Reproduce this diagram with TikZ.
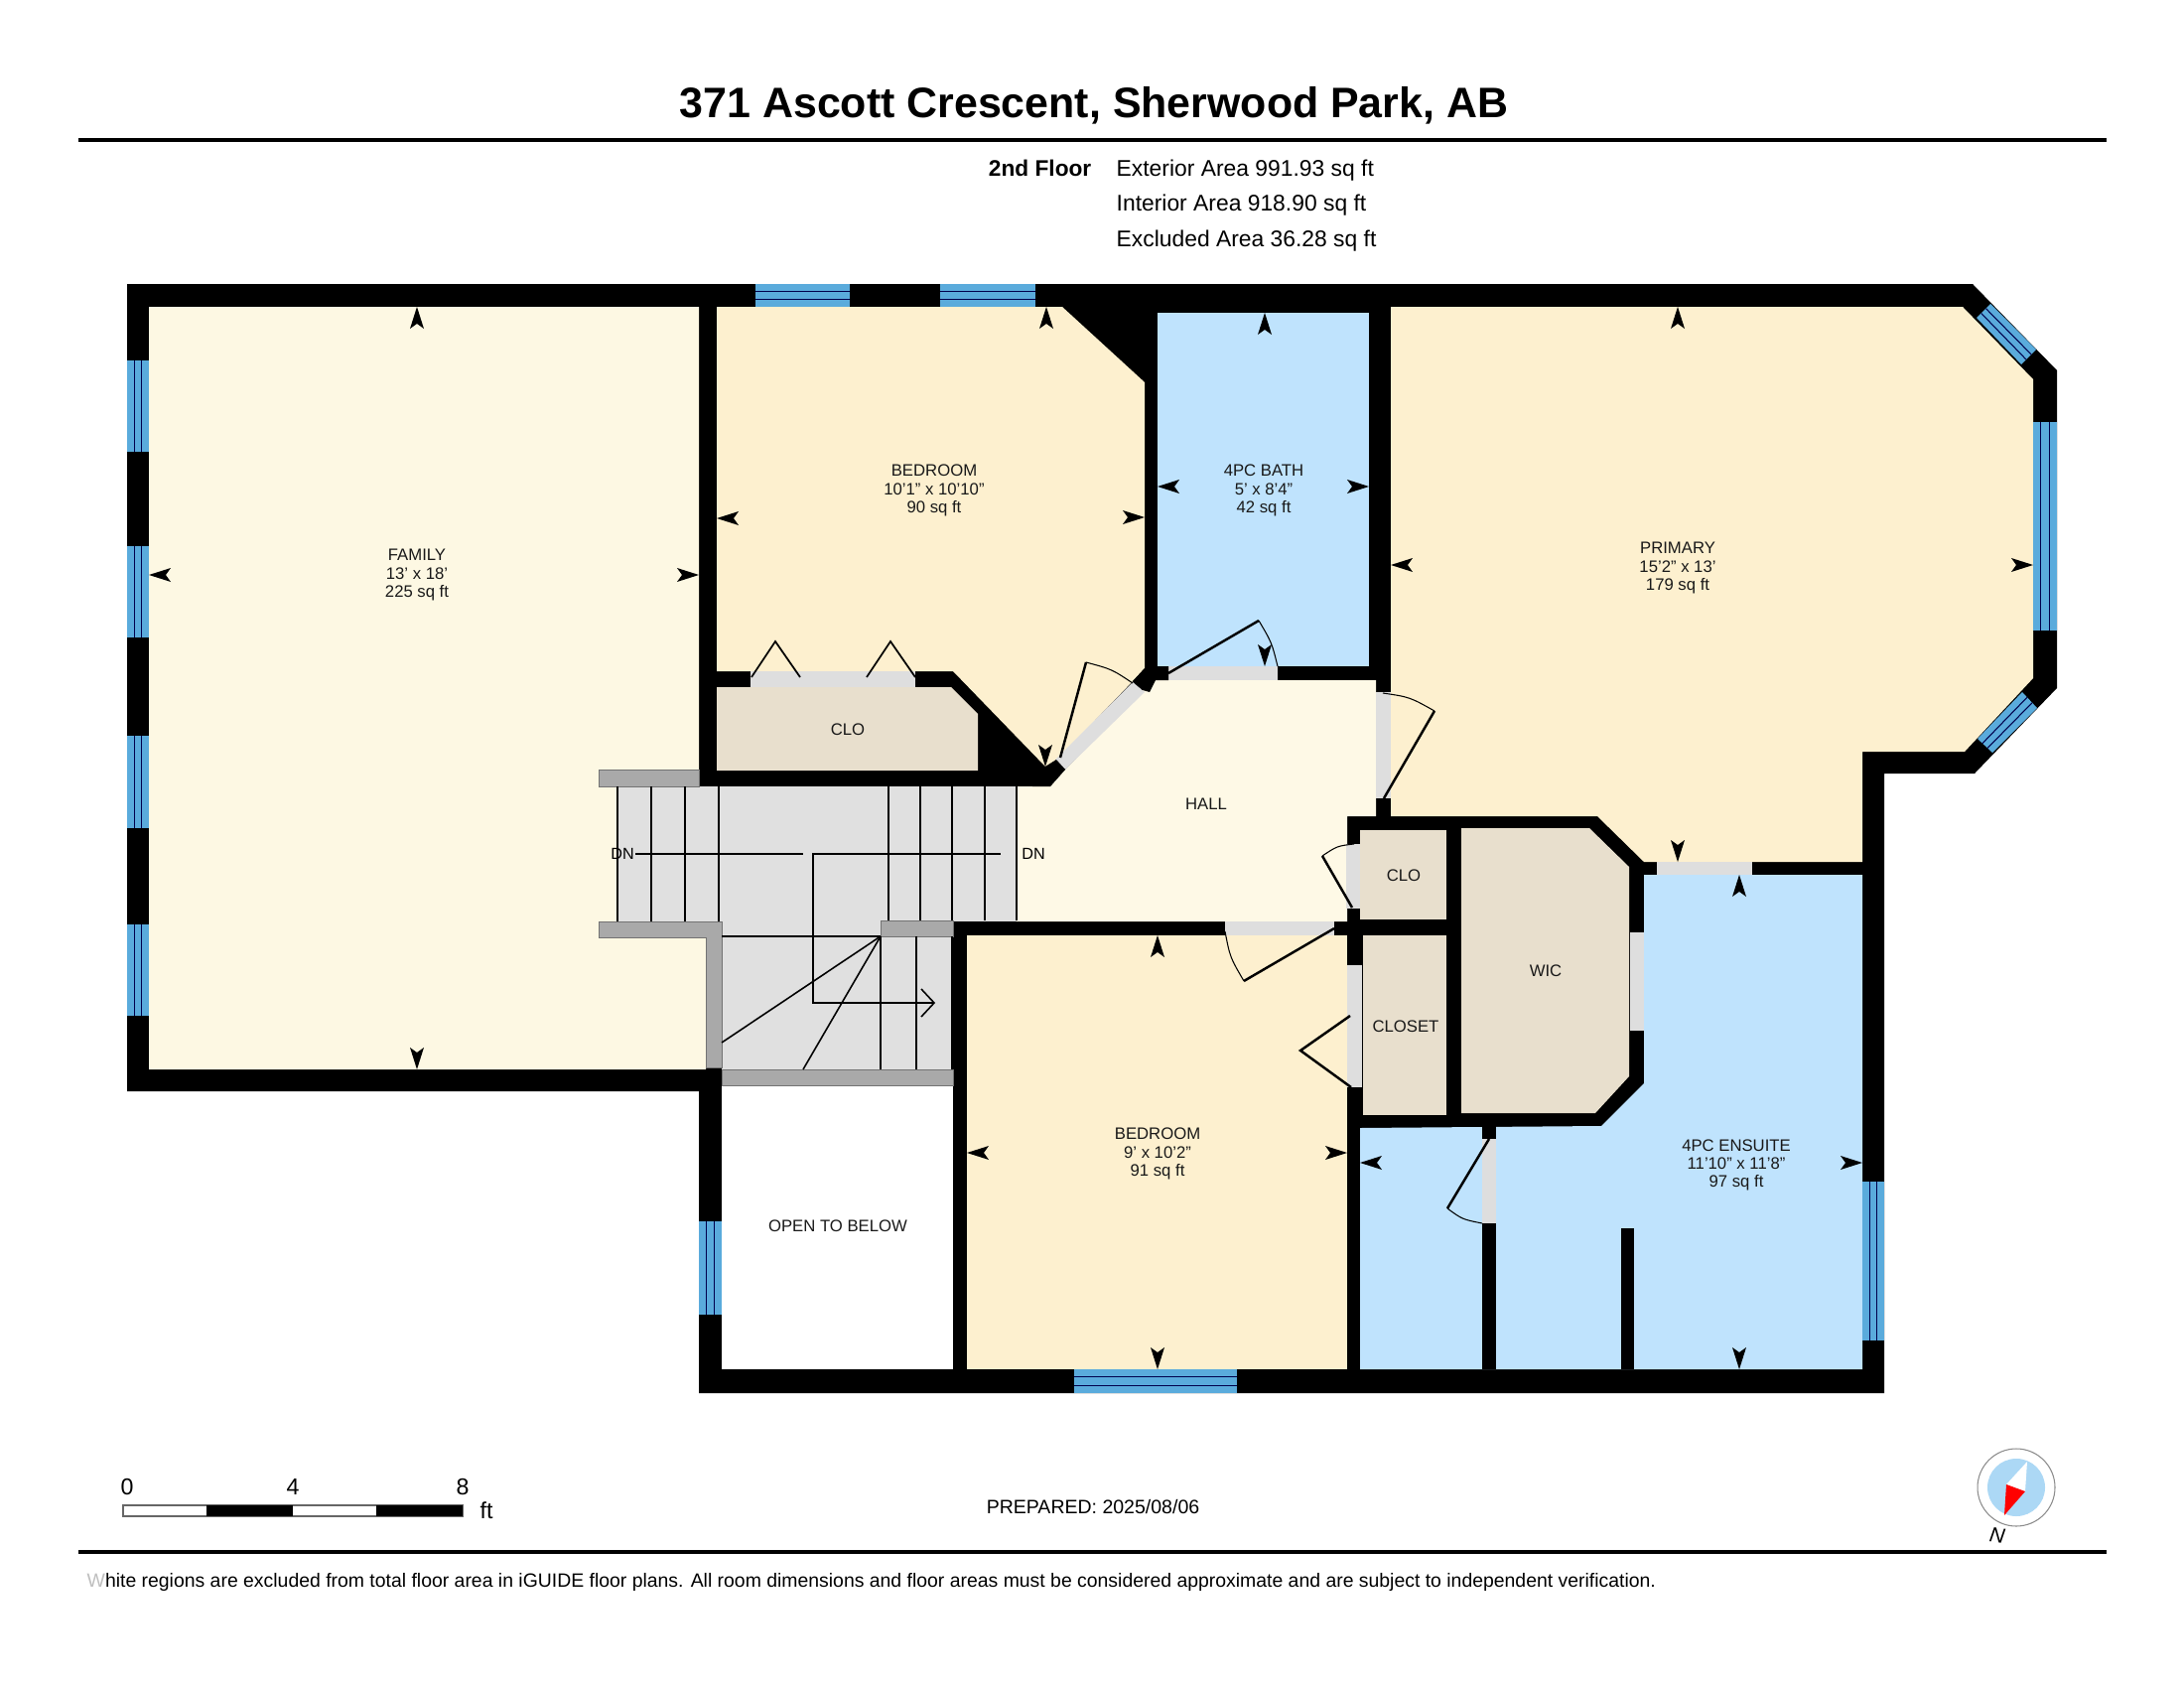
\documentclass[tikz,border=0pt]{standalone}
\usepackage{fontspec}
\setmainfont{Liberation Sans}
\usetikzlibrary{calc}
\definecolor{fam}{HTML}{FDF8E3}
\definecolor{bed}{HTML}{FDF0CF}
\definecolor{bath}{HTML}{BFE3FD}
\definecolor{closetc}{HTML}{E8DFCD}
\definecolor{winc}{HTML}{5AABDC}
\definecolor{hallc}{HTML}{FEF9E6}
\definecolor{doorc}{HTML}{DEDEDE}
\definecolor{stairc}{HTML}{E0E0E0}
\definecolor{railc}{HTML}{A9A9A9}
\definecolor{compassc}{HTML}{ACD8F5}
\tikzset{
  x=0.01cm,y=-0.01cm,
  roomlabel/.style={align=center,inner sep=0pt,font=\fontsize{4.75}{5.15}\selectfont,text=black!90},
  infolabel/.style={anchor=west,inner sep=0pt,font=\fontsize{6.5}{7}\selectfont},
  scalelabel/.style={inner sep=0pt,font=\fontsize{6.6}{7}\selectfont},
  leaf/.style={draw=black,line width=0.7pt},
  swing/.style={draw=black,line width=0.3pt},
  tread/.style={draw=black,line width=0.45pt},
  rail/.style={fill=railc,draw=black!55,line width=0.1pt},
  glass/.style={fill=winc},
  mullion/.style={draw=black!70!blue,line width=0.3pt}
}
\newcommand\dart[3]{\fill[black,shift={(#1,#2)},rotate=#3] (0,0)--(-22,7)--(-17,0)--(-22,-7)--cycle;}
% window quadrilateral: a,b on one long side; d,c on the other
\newcommand\winq[4]{%
  \fill[glass] #1--#2--#3--#4--cycle;
  \draw[mullion] ($#1!0.33!#4$)--($#2!0.33!#3$);
  \draw[mullion] ($#1!0.67!#4$)--($#2!0.67!#3$);}
\begin{document}
\begin{tikzpicture}
\useasboundingbox[fill=white] (0,0) rectangle (2200,1700);
% rules and header
\fill[black] (79,139.5) rectangle (2122,143);
\fill[black] (79,1561) rectangle (2122,1564.5);
\node[inner sep=0pt,font=\fontsize{12.2}{14}\selectfont\bfseries] (title) at (1102,106) {371 Ascott Crescent, Sherwood Park, AB};
\node[inner sep=0pt,anchor=east,font=\fontsize{6.45}{7}\selectfont\bfseries] (floor) at (1100,169) {2nd Floor};
\node[infolabel] (ext) at (1124,172) {Exterior Area 991.93 sq ft};
\node[infolabel] (int) at (1124,207) {Interior Area 918.90 sq ft};
\node[infolabel] (exc) at (1124,243) {Excluded Area 36.28 sq ft};
% building footprint
\fill[black] (128,286)--(1987,286)--(2072,373)--(2072,693)--(1989,779)--(1898,779)--(1898,1403)--(704,1403)--(704,1099)--(128,1099)--cycle;
% rooms
\fill[fam] (150,309)--(704,309)--(704,944)--(711,944)--(711,1077)--(150,1077)--cycle;
\fill[bed] (722,309)--(1070,309)--(1153,385)--(1153,673)--(1141,686)--(1064,766)--(1053,772)--(960,676)--(722,676)--cycle;
\fill[bath] (1166,315) rectangle (1379,671);
\fill[bed] (1401,309)--(1977,309)--(2048,382)--(2048,683)--(1979,757)--(1876,757)--(1876,868)--(1656,868)--(1609,822)--(1401,822)--cycle;
\fill[hallc] (1024,792)--(1058,792)--(1073,775)--(1151,695)--(1164,685)--(1386,685)--(1386,822)--(1357,822)--(1357,928)--(1024,928)--cycle;
\fill[closetc] (722,692)--(958,692)--(985,719)--(985,776)--(722,776)--cycle;
\fill[bed] (974,942) rectangle (1357,1379);
\fill[white] (727,1093) rectangle (960,1379);
\fill[closetc] (1370,836) rectangle (1457,926);
\fill[closetc] (1373,942) rectangle (1457,1123);
\fill[closetc] (1472,834)--(1601,834)--(1641,873)--(1641,1084)--(1607,1121)--(1472,1121)--cycle;
\fill[bath] (1370,1136)--(1613,1134)--(1656,1091)--(1656,881)--(1876,881)--(1876,1379)--(1370,1379)--cycle;
\fill[black] (1493,1134) rectangle (1507,1147);
\fill[black] (1493,1232) rectangle (1507,1379);
\fill[black] (1633,1237) rectangle (1646,1379);
% stairs
\fill[stairc] (622,792) rectangle (1024,928);
\fill[stairc] (727,927) rectangle (960,1077);
\fill[black] (960,928) rectangle (974,1093);
\filldraw[rail] (603,775) rectangle (704,792);
\filldraw[rail] (603,928)--(727,928)--(727,1075)--(711,1075)--(711,944)--(603,944)--cycle;
\filldraw[rail] (727,1077) rectangle (960,1093);
\filldraw[rail] (887,927) rectangle (960,943);
\foreach \x in {622,656,690,724}{\draw[tread] (\x,792)--(\x,928);}
\foreach \x in {895,927,959,992,1024}{\draw[tread] (\x,792)--(\x,927);}
\foreach \x in {887,923,959}{\draw[tread] (\x,943)--(\x,1077);}
\draw[tread] (727,943)--(887,943);
\draw[tread] (887,943)--(727,1050);
\draw[tread] (887,943)--(809,1077);
\draw[tread] (640,860)--(809,860);
\draw[tread] (1008,860)--(819,860)--(819,1010)--(941,1010);
\draw[tread] (928,996)--(941,1010)--(928,1024);
\node[inner sep=0pt,font=\fontsize{4.6}{5}\selectfont] (dnl) at (627,860) {DN};
\node[inner sep=0pt,font=\fontsize{4.6}{5}\selectfont] (dnr) at (1041,860) {DN};
% door openings
\fill[doorc] (756,676) rectangle (922,692);
\fill[doorc] (1177,671) rectangle (1287,685);
\fill[doorc] (1063,765)--(1073,775)--(1153,697)--(1141,687)--cycle;
\fill[black] (1053,772)--(1064,765)--(1073,775)--(1058,792)--(1040,792)--cycle;
\fill[black] (1141,686)--(1153,673)--(1177,671)--(1177,685)--(1164,685)--(1158,697)--(1151,695)--cycle;
\fill[doorc] (1386,697) rectangle (1401,804);
\fill[doorc] (1356,850) rectangle (1370,915);
\fill[doorc] (1234,928) rectangle (1344,942);
\fill[doorc] (1357,972) rectangle (1372,1095);
\fill[doorc] (1642,939) rectangle (1656,1038);
\fill[doorc] (1669,868) rectangle (1765,881);
\fill[doorc] (1493,1147) rectangle (1507,1232);
% door leaves
\draw[leaf] (1068,763)--(1094,667);
\draw[swing] (1094,667) .. controls (1120,674) .. (1141,688);
\draw[leaf] (1177,678)--(1268,625);
\draw[swing] (1268,625) .. controls (1281,647) .. (1287,671);
\draw[leaf] (1394,804)--(1445,716);
\draw[swing] (1445,716) .. controls (1420,702) .. (1393,698);
\draw[leaf] (1362,914)--(1332,862);
\draw[swing] (1332,862) .. controls (1347,852) .. (1364,850);
\draw[leaf] (1344,935)--(1253,988);
\draw[swing] (1253,988) .. controls (1239,964) .. (1234,938);
\draw[leaf] (1360,1023)--(1310,1058)--(1361,1095);
\draw[leaf] (1500,1147)--(1458,1217);
\draw[swing] (1458,1217) .. controls (1473,1228) .. (1493,1232);
\draw[leaf,line width=0.5pt] (757,682)--(781,646)--(806,682);
\draw[leaf,line width=0.5pt] (873,682)--(897,646)--(922,682);
% windows
\winq{(761,286)}{(856,286)}{(856,309)}{(761,309)}
\winq{(947,286)}{(1043,286)}{(1043,309)}{(947,309)}
\winq{(128,363)}{(128,455)}{(150,455)}{(150,363)}
\winq{(128,550)}{(128,642)}{(150,642)}{(150,550)}
\winq{(128,741)}{(128,834)}{(150,834)}{(150,741)}
\winq{(128,931)}{(128,1023)}{(150,1023)}{(150,931)}
\winq{(704,1230)}{(704,1324)}{(727,1324)}{(727,1230)}
\winq{(1082,1379)}{(1246,1379)}{(1246,1403)}{(1082,1403)}
\winq{(1876,1190)}{(1876,1350)}{(1898,1350)}{(1898,1190)}
\winq{(2005,306)}{(2051,352)}{(2036,367)}{(1991,320)}
\winq{(2072,425)}{(2072,635)}{(2048,635)}{(2048,425)}
\winq{(2052,713)}{(2007,758)}{(1992,744)}{(2037,697)}
% room labels
\node[roomlabel] (family) at (420,579) {FAMILY\\13' x 18'\\225 sq ft};
\node[roomlabel] (bed1) at (941,494) {BEDROOM\\10'1" x 10'10"\\90 sq ft};
\node[roomlabel] (bathl) at (1273,494) {4PC BATH\\5' x 8'4"\\42 sq ft};
\node[roomlabel] (prim) at (1690,572) {PRIMARY\\15'2" x 13'\\179 sq ft};
\node[roomlabel] (hall) at (1215,810) {HALL};
\node[roomlabel] (clo1) at (854,735) {CLO};
\node[roomlabel] (clo2) at (1414,882) {CLO};
\node[roomlabel] (closet) at (1416,1034) {CLOSET};
\node[roomlabel] (wic) at (1557,978) {WIC};
\node[roomlabel] (bed2) at (1166,1162) {BEDROOM\\9' x 10'2"\\91 sq ft};
\node[roomlabel] (ens) at (1749,1173) {4PC ENSUITE\\11'10" x 11'8"\\97 sq ft};
\node[roomlabel] (open) at (844,1235) {OPEN TO BELOW};
% measure arrows
\dart{420}{309}{90}\dart{420}{1077}{270}\dart{150}{579}{180}\dart{704}{579}{0}
\dart{1054}{309}{90}\dart{1053}{772}{270}\dart{722}{522}{180}\dart{1153}{521}{0}
\dart{1274}{315}{90}\dart{1274}{671}{270}\dart{1166}{490}{180}\dart{1379}{490}{0}
\dart{1690}{309}{90}\dart{1690}{868}{270}\dart{1401}{569}{180}\dart{2048}{569}{0}
\dart{1166}{942}{90}\dart{1166}{1379}{270}\dart{974}{1161}{180}\dart{1357}{1161}{0}
\dart{1752}{881}{90}\dart{1752}{1379}{270}\dart{1370}{1171}{180}\dart{1876}{1171}{0}
% scale bar
\filldraw[fill=white,draw=black!60,line width=0.3pt] (124,1516) rectangle (466,1527);
\fill[black] (208,1516) rectangle (295,1527);
\fill[black] (379,1516) rectangle (466,1527);
\node[scalelabel] (s0) at (128,1497) {0};
\node[scalelabel] (s4) at (295,1497) {4};
\node[scalelabel] (s8) at (466,1497) {8};
\node[scalelabel] (sft) at (490,1521) {ft};
\node[inner sep=0pt,font=\fontsize{5.55}{7}\selectfont] (prep) at (1101,1518) {PREPARED: 2025/08/06};
\node[inner sep=0pt,anchor=west,font=\fontsize{5.52}{7}\selectfont] (foot) at (87,1593) {{\color{black!25}W}hite regions are excluded from total floor area in iGUIDE floor plans. All room dimensions and floor areas must be considered approximate and are subject to independent verification.};
% compass
\draw[black!45,fill=white,line width=0.3pt] (2031,1498) circle[radius=39];
\fill[compassc] (2031,1498) circle[radius=29];
\fill[white] (2042,1472)--(2021,1495)--(2040,1502)--cycle;
\fill[red] (2021,1495)--(2040,1502)--(2019,1526)--cycle;
\node[inner sep=0pt,rotate=-8,font=\fontsize{6}{7}\selectfont\itshape] (north) at (2012,1546) {N};
\end{tikzpicture}
\end{document}
